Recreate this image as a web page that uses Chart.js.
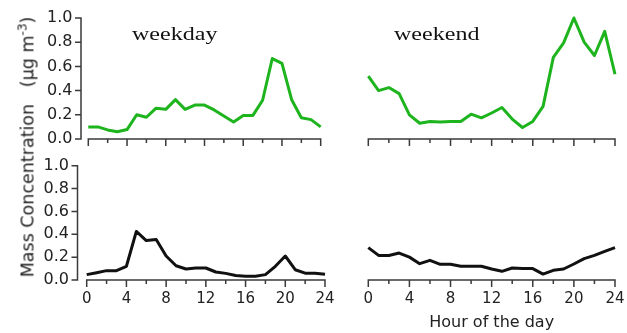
<!DOCTYPE html>
<html>
<head>
<meta charset="utf-8">
<script src="https://cdn.jsdelivr.net/npm/chart.js@4.4.1/dist/chart.umd.min.js"></script>
<style>
  html, body { margin: 0; padding: 0; background: #fff; }
  #wrap { position: relative; width: 627px; height: 333px; overflow: hidden; background: #fff; }
  #wrap canvas { position: absolute; left: 0; top: 0; }
  .panel-title {
    position: absolute; top: 25px;
    font-family: "Liberation Serif", "Times New Roman", serif;
    font-size: 18.5px; line-height: 18px; color: #111; white-space: nowrap;
    transform-origin: 0 0; transform: scaleX(1.3);
  }
  .axis-title {
    position: absolute; font-family: "DejaVu Sans", sans-serif;
    color: #222; white-space: nowrap;
  }
  #ytitle {
    left: 28.5px; top: 146.5px; font-size: 17.5px; line-height: 17px;
    transform: translate(-50%, -50%) rotate(-90deg);
  }
  #ytitle .sup { font-size: 12px; position: relative; top: -0.6em; }
  #xtitle {
    left: 491.7px; top: 313.5px; font-size: 16px; line-height: 16px;
    transform: translateX(-50%);
  }
</style>
</head>
<body>
<div id="wrap">
  <canvas id="tl" width="627" height="333"></canvas>
  <canvas id="tr" width="627" height="333"></canvas>
  <canvas id="bl" width="627" height="333"></canvas>
  <canvas id="br" width="627" height="333"></canvas>
  <div class="panel-title" style="left:131.7px">weekday</div>
  <div class="panel-title" style="left:394px">weekend</div>
  <div class="axis-title" id="ytitle">Mass Concentration&nbsp;&nbsp;&nbsp;(μg m<span class="sup">-3</span>)</div>
  <div class="axis-title" id="xtitle">Hour of the day</div>
</div>
<script>
// Hour of the day (x) and diurnal mass concentration profiles (μg m-3)
const hours = [0,1,2,3,4,5,6,7,8,9,10,11,12,13,14,15,16,17,18,19,20,21,22,23,24];
const hourTicks = [0, 4, 8, 12, 16, 20, 24];
const minorHourTicks = [2, 6, 10, 14, 18, 22];
const concTicks = [0, 0.2, 0.4, 0.6, 0.8, 1.0];

const weekdayGreen = [0.10,0.10,0.075,0.06,0.078,0.20,0.18,0.255,0.245,0.325,0.245,0.28,0.28,0.24,0.19,0.14,0.195,0.195,0.32,0.665,0.625,0.325,0.175,0.16,0.10];
const weekendGreen = [0.52,0.40,0.425,0.375,0.20,0.13,0.145,0.14,0.145,0.145,0.205,0.175,0.215,0.26,0.165,0.095,0.145,0.27,0.675,0.795,1.0,0.80,0.69,0.89,0.535];
const weekdayBlack = [0.047,0.064,0.082,0.082,0.12,0.425,0.345,0.355,0.21,0.125,0.096,0.105,0.105,0.07,0.058,0.04,0.032,0.032,0.047,0.12,0.21,0.09,0.06,0.06,0.05];
const weekendBlack = [0.283,0.215,0.215,0.236,0.20,0.143,0.172,0.137,0.137,0.12,0.12,0.12,0.096,0.076,0.105,0.10,0.10,0.052,0.085,0.096,0.14,0.187,0.215,0.25,0.283];

const GREEN = '#1eb41e';
const BLACK = '#111111';
const AXIS = '#3a3a3a';
const TEXT = '#222222';

const PAGE_W = 627, PAGE_H = 333;
const Y_BOX = 60, X_BOX = 30;

// Plot boxes: left/right = hour 0/24, top/bottom = 1.0/0.0; gap = offset of the free y axis
const boxes = {
  tl: { left: 88.3, right: 320.7, top: 18,    bottom: 139, gap: 7.3 },
  tr: { left: 368.3, right: 615,  top: 18,    bottom: 139, gap: 0 },
  bl: { left: 86.7, right: 325,   top: 165.7, bottom: 280, gap: 9.2 },
  br: { left: 368.3, right: 615,  top: 165.7, bottom: 280, gap: 0 }
};

// Fixed scale box size, without the extra edge padding reserved for end labels
function fixBox(size, horizontal) {
  return s => {
    if (horizontal) s.height = size; else s.width = size;
    s.paddingTop = 0; s.paddingBottom = 0; s.paddingLeft = 0; s.paddingRight = 0;
  };
}

// Draws detached axes: x axis from 0 to 24 h with major/minor ticks, y axis set off to the left
const offsetAxes = {
  id: 'offsetAxes',
  afterDatasetsDraw(chart, args, opts) {
    const { ctx, chartArea, scales: { x, y } } = chart;
    ctx.save();
    ctx.strokeStyle = AXIS;
    ctx.lineWidth = 1.5;
    ctx.lineCap = 'butt';
    const y0 = y.getPixelForValue(0);
    ctx.beginPath();
    ctx.moveTo(x.getPixelForValue(hourTicks[0]), y0);
    ctx.lineTo(x.getPixelForValue(hourTicks[hourTicks.length - 1]), y0);
    hourTicks.forEach(h => { const p = x.getPixelForValue(h); ctx.moveTo(p, y0 - 0.75); ctx.lineTo(p, y0 + 7); });
    minorHourTicks.forEach(h => { const p = x.getPixelForValue(h); ctx.moveTo(p, y0 - 0.75); ctx.lineTo(p, y0 + 4); });
    ctx.stroke();
    if (opts.yAxis) {
      const ax = chartArea.left - opts.gap;
      ctx.beginPath();
      ctx.moveTo(ax, y.getPixelForValue(concTicks[0]) + 0.75);
      ctx.lineTo(ax, y.getPixelForValue(concTicks[concTicks.length - 1]) - 0.75);
      concTicks.forEach(v => { const p = y.getPixelForValue(v); ctx.moveTo(ax + 0.75, p); ctx.lineTo(ax - 6, p); });
      ctx.stroke();
    }
    ctx.restore();
  }
};

function makePanel(id, values, color, showY, showX) {
  const box = boxes[id];
  const yBox = showY ? Y_BOX : 0;
  return new Chart(document.getElementById(id), {
    type: 'line',
    data: {
      datasets: [{
        data: hours.map((h, i) => ({ x: h, y: values[i] })),
        borderColor: color,
        borderWidth: 3,
        borderJoinStyle: 'round',
        pointRadius: 0,
        tension: 0,
        fill: false,
        clip: false
      }]
    },
    options: {
      responsive: false,
      animation: false,
      events: [],
      layout: {
        padding: {
          left: box.left - yBox,
          right: PAGE_W - box.right,
          top: box.top,
          bottom: PAGE_H - box.bottom - X_BOX
        }
      },
      plugins: {
        legend: { display: false },
        tooltip: { enabled: false },
        offsetAxes: { yAxis: showY, gap: box.gap }
      },
      scales: {
        x: {
          type: 'linear', min: 0, max: 24,
          afterFit: fixBox(X_BOX, true),
          afterBuildTicks: s => { s.ticks = hourTicks.map(v => ({ value: v })); },
          grid: { display: false, drawTicks: false },
          border: { display: false },
          ticks: {
            display: showX, autoSkip: false, maxRotation: 0, padding: 10,
            color: TEXT, font: { family: 'DejaVu Sans', size: 15 }
          }
        },
        y: {
          type: 'linear', min: 0, max: 1, display: showY,
          afterFit: fixBox(yBox, false),
          afterBuildTicks: s => { s.ticks = concTicks.map(v => ({ value: v })); },
          grid: { display: false, drawTicks: false },
          border: { display: false },
          ticks: {
            padding: box.gap + 8.5,
            callback: v => Number(v).toFixed(1),
            color: TEXT, font: { family: 'DejaVu Sans', size: 16 }
          }
        }
      }
    },
    plugins: [offsetAxes]
  });
}

makePanel('tl', weekdayGreen, GREEN, true, false);
makePanel('tr', weekendGreen, GREEN, false, false);
makePanel('bl', weekdayBlack, BLACK, true, true);
makePanel('br', weekendBlack, BLACK, false, true);
</script>
</body>
</html>
